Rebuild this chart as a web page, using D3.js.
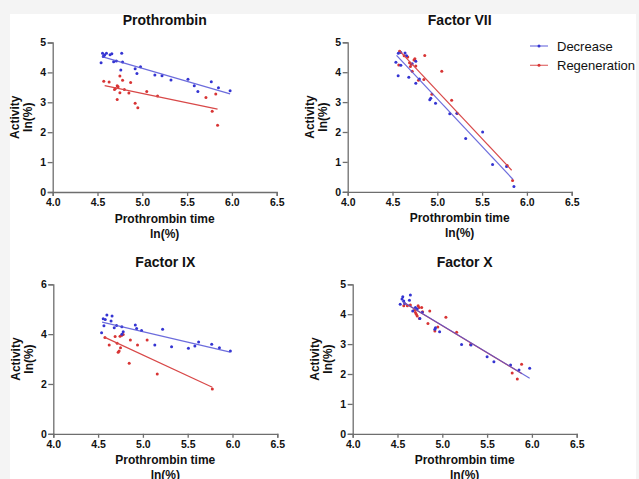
<!DOCTYPE html>
<html>
<head>
<meta charset="utf-8">
<script src="https://cdn.jsdelivr.net/npm/d3@7"></script>
<style>
  html, body { margin: 0; padding: 0; background: #f4f4f4; }
  svg { display: block; }
  text { font-family: "Liberation Sans", Arial, Helvetica, sans-serif; }
</style>
</head>
<body>
<svg id="chart" width="639" height="479"></svg>
<script>
// ---------- data ----------
const xTicks = [4.0, 4.5, 5.0, 5.5, 6.0, 6.5];
const seriesNames = ["Decrease", "Regeneration"];
const panelTitles = ["Prothrombin", "Factor VII", "Factor IX", "Factor X"];
const yTicks5 = [0, 1, 2, 3, 4, 5];
const yTicks6 = [0, 2, 4, 6];

const prothrombinDecrease = [[4.54,4.32],[4.556,4.64],[4.58,4.58],[4.60,4.64],[4.565,4.53],[4.57,4.56],[4.64,4.59],[4.66,4.62],[4.68,4.36],[4.71,4.38],[4.77,4.64],[4.78,4.35],[4.76,4.08],[4.92,4.12],[4.94,3.96],[4.98,4.19],[5.14,3.91],[5.22,3.89],[5.32,3.75],[5.51,3.77],[5.58,3.55],[5.62,3.36],[5.77,3.69],[5.85,3.49],[5.98,3.39]];
const prothrombinRegeneration = [[4.57,3.70],[4.63,3.68],[4.69,3.43],[4.70,3.46],[4.72,3.55],[4.73,3.52],[4.72,3.09],[4.75,3.88],[4.78,3.74],[4.75,3.32],[4.80,3.43],[4.85,3.31],[4.87,3.66],[4.92,2.97],[4.95,2.82],[5.05,3.36],[5.17,3.21],[5.71,3.16],[5.78,2.70],[5.82,3.28],[5.84,2.23]];
const prothrombinFitDecrease = [[4.55,4.53],[5.98,3.28]];
const prothrombinFitRegeneration = [[4.58,3.56],[5.84,2.77]];

const factorVIIDecrease = [[4.538,4.33],[4.563,3.88],[4.565,4.63],[4.593,4.66],[4.593,4.23],[4.64,4.64],[4.657,4.55],[4.682,3.83],[4.72,4.28],[4.76,4.37],[4.76,3.63],[4.80,3.77],[4.916,3.08],[4.927,3.13],[4.98,2.96],[5.139,2.61],[5.22,2.63],[5.317,1.78],[5.506,2.00],[5.617,0.91],[5.773,0.85],[5.855,0.18]];
const factorVIIRegeneration = [[4.58,4.70],[4.57,4.24],[4.63,4.55],[4.67,4.51],[4.69,4.32],[4.71,4.27],[4.70,4.19],[4.74,4.41],[4.75,4.45],[4.76,4.21],[4.72,4.03],[4.86,4.56],[4.85,3.76],[4.79,3.73],[4.94,3.26],[5.05,4.03],[5.16,3.06],[5.22,2.62],[5.78,0.88],[5.84,0.38]];
const factorVIIFitDecrease = [[4.545,4.56],[5.843,0.42]];
const factorVIIFitRegeneration = [[4.571,4.74],[5.83,0.72]];

const factorIXDecrease = [[4.539,4.06],[4.565,4.34],[4.557,4.62],[4.58,4.59],[4.598,4.77],[4.645,4.53],[4.656,4.73],[4.68,4.26],[4.706,4.35],[4.765,4.30],[4.78,4.10],[4.765,4.00],[4.915,4.37],[4.93,4.23],[4.985,4.15],[5.133,3.56],[5.22,4.20],[5.32,3.49],[5.508,3.43],[5.58,3.52],[5.622,3.68],[5.768,3.59],[5.854,3.45],[5.976,3.32]];
const factorIXRegeneration = [[4.576,3.86],[4.624,3.56],[4.69,3.90],[4.713,3.63],[4.724,3.27],[4.735,3.32],[4.745,3.92],[4.75,3.45],[4.765,3.96],[4.78,3.99],[4.847,2.83],[4.86,3.76],[4.94,3.56],[5.047,3.76],[5.16,2.40],[5.775,1.80]];
const factorIXFitDecrease = [[4.545,4.48],[5.975,3.28]];
const factorIXFitRegeneration = [[4.576,3.87],[5.775,1.87]];

const factorXDecrease = [[4.559,4.58],[4.55,4.51],[4.57,4.44],[4.53,4.33],[4.644,4.64],[4.633,4.47],[4.58,4.36],[4.70,4.22],[4.67,4.11],[4.72,4.17],[4.775,4.06],[4.75,3.86],[4.917,3.50],[4.924,3.55],[4.97,3.41],[5.215,2.99],[5.32,2.97],[5.50,2.58],[5.576,2.41],[5.762,2.30],[5.856,2.13],[5.975,2.19]];
const factorXRegeneration = [[4.57,4.28],[4.61,4.28],[4.644,4.31],[4.69,4.14],[4.73,4.28],[4.74,4.22],[4.77,4.22],[4.70,4.06],[4.71,4.00],[4.72,3.94],[4.745,3.86],[4.86,4.11],[4.84,3.69],[4.78,4.08],[4.95,3.57],[4.917,3.44],[5.04,3.90],[5.16,3.40],[5.315,2.99],[5.78,2.03],[5.885,2.33],[5.837,1.83]];
const factorXFitDecrease = [[4.55,4.43],[5.975,1.86]];
const factorXFitRegeneration = [[4.57,4.39],[5.89,2.01]];

// ---------- layout ----------
const colors = { Decrease: "#3434d2", Regeneration: "#d83434" };
const lineColors = { Decrease: "#5252d6", Regeneration: "#d84848" };

const panels = [
  { title: panelTitles[0], left: 52.7, top: 42.5, yMax: 5, yTicks: yTicks5,
    dec: prothrombinDecrease, reg: prothrombinRegeneration, fitDec: prothrombinFitDecrease, fitReg: prothrombinFitRegeneration },
  { title: panelTitles[1], left: 347.7, top: 42.3, yMax: 5, yTicks: yTicks5,
    dec: factorVIIDecrease, reg: factorVIIRegeneration, fitDec: factorVIIFitDecrease, fitReg: factorVIIFitRegeneration },
  { title: panelTitles[2], left: 53.3, top: 284.3, yMax: 6, yTicks: yTicks6,
    dec: factorIXDecrease, reg: factorIXRegeneration, fitDec: factorIXFitDecrease, fitReg: factorIXFitRegeneration },
  { title: panelTitles[3], left: 352.7, top: 284.3, yMax: 5, yTicks: yTicks5,
    dec: factorXDecrease, reg: factorXRegeneration, fitDec: factorXFitDecrease, fitReg: factorXFitRegeneration }
];
const W = 224, H = 149.5;

const svg = d3.select("#chart");
// white page area
svg.append("rect").attr("x", 10).attr("y", 14).attr("width", 626).attr("height", 465).attr("fill", "#ffffff");

panels.forEach(p => {
  const g = svg.append("g").attr("transform", `translate(${p.left},${p.top})`);
  const x = d3.scaleLinear().domain([4.0, 6.5]).range([0, W]);
  const y = d3.scaleLinear().domain([0, p.yMax]).range([H, 0]);

  // title
  g.append("text").attr("x", W / 2).attr("y", -17.5).attr("text-anchor", "middle")
    .attr("font-size", 14).attr("font-weight", "bold").attr("fill", "#111").text(p.title);

  // axes
  const xAxis = g.append("g").attr("transform", `translate(0,${H})`)
    .call(d3.axisBottom(x).tickValues(xTicks).tickFormat(d3.format(".1f")).tickSizeOuter(0).tickSize(4).tickPadding(3));
  const yAxis = g.append("g")
    .call(d3.axisLeft(y).tickValues(p.yTicks).tickFormat(d3.format("d")).tickSizeOuter(0).tickSize(5).tickPadding(1.5));
  [xAxis, yAxis].forEach(a => {
    a.select(".domain").attr("stroke", "#6e6e6e").attr("stroke-width", 1.3);
    a.selectAll(".tick line").attr("stroke", "#6e6e6e").attr("stroke-width", 1.3);
    a.selectAll(".tick text").attr("font-size", 10.5).attr("font-weight", "bold").attr("fill", "#111")
      .attr("font-family", '"Liberation Sans", Arial, sans-serif');
  });

  // axis titles
  g.append("text").attr("x", W / 2).attr("y", H + 30.5).attr("text-anchor", "middle")
    .attr("font-size", 12).attr("font-weight", "bold").attr("fill", "#111").text("Prothrombin time");
  g.append("text").attr("x", W / 2).attr("y", H + 45.5).attr("text-anchor", "middle")
    .attr("font-size", 12).attr("font-weight", "bold").attr("fill", "#111").text("ln(%)");
  const yt = g.append("text").attr("transform", `translate(-33.5,${H / 2}) rotate(-90)`)
    .attr("text-anchor", "middle").attr("font-size", 12).attr("font-weight", "bold").attr("fill", "#111");
  yt.append("tspan").attr("x", 0).attr("y", 0).text("Activity");
  yt.append("tspan").attr("x", 0).attr("y", 13).text("ln(%)");

  const line = d3.line().x(d => x(d[0])).y(d => y(d[1]));

  // points
  [["Regeneration", p.reg], ["Decrease", p.dec]].forEach(([name, pts]) => {
    g.append("g").selectAll("circle").data(pts).join("circle")
      .attr("cx", d => x(d[0])).attr("cy", d => y(d[1])).attr("r", 1.5)
      .attr("fill", colors[name]);
  });
  // fit lines
  g.append("path").datum(p.fitReg).attr("d", line).attr("fill", "none")
    .attr("stroke", lineColors.Regeneration).attr("stroke-width", 1.2);
  g.append("path").datum(p.fitDec).attr("d", line).attr("fill", "none")
    .attr("stroke", lineColors.Decrease).attr("stroke-width", 1.2).attr("stroke-opacity", 0.85);
});

// legend
const leg = svg.append("g");
seriesNames.forEach((name, i) => {
  const yy = 46 + i * 19.3;
  leg.append("line").attr("x1", 530).attr("x2", 548).attr("y1", yy).attr("y2", yy)
    .attr("stroke", lineColors[name]).attr("stroke-width", 1.2).attr("stroke-opacity", 0.8);
  leg.append("circle").attr("cx", 539).attr("cy", yy).attr("r", 1.5).attr("fill", colors[name]);
  leg.append("text").attr("x", 557).attr("y", yy + 4.6).attr("font-size", 13).attr("fill", "#111").text(name);
});
// right margin strip
svg.append("rect").attr("x", 636).attr("y", 0).attr("width", 3).attr("height", 479).attr("fill", "#f4f4f4");
</script>
</body>
</html>
